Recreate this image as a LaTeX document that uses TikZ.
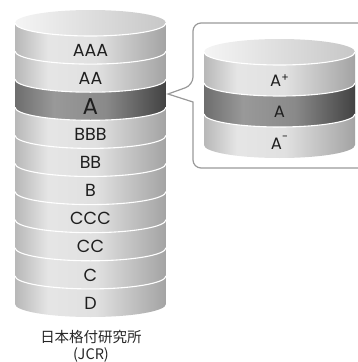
\documentclass[tikz,border=0pt]{standalone}
\usepackage{fontspec}
\setmainfont{Poppins}
\newfontfamily\jpfont{Noto Sans CJK JP}
\usepackage{xcolor}
\usepackage{tikz}
\usetikzlibrary{calc}

\pgfdeclarehorizontalshading{sidegray}{100bp}{color(0bp)=(black!28); color(25bp)=(black!28); color(36bp)=(black!10); color(52bp)=(black!12); color(75bp)=(black!36); color(100bp)=(black!36)}
\pgfdeclarehorizontalshading{bandgray}{100bp}{color(0bp)=(black!57); color(25bp)=(black!57); color(38bp)=(black!40); color(55bp)=(black!46); color(75bp)=(black!74); color(100bp)=(black!74)}
\pgfdeclarehorizontalshading{topgray}{100bp}{color(0bp)=(black!4); color(25bp)=(black!4); color(75bp)=(black!22); color(100bp)=(black!22)}

\begin{document}
\begin{tikzpicture}[x=1pt,y=1pt,
  lab/.style={font=\fontsize{17.5}{18}\selectfont, text=black!88, inner sep=0pt},
  biglab/.style={font=\fontsize{23}{24}\selectfont, text=black!88, inner sep=0pt},
  sublab/.style={font=\fontsize{16.5}{17}\selectfont, text=black!88, inner sep=0pt},
  sep/.style={white, line width=1.1pt},
  callout/.style={black!40, line width=1.2pt}]
\useasboundingbox (0,0) rectangle (358,-362);

% main scale
\foreach \k in {0,...,9}{
  \path[shading=sidegray] (15,{-23-28.1*\k}) arc[start angle=180,end angle=360,x radius=75.5,y radius=13]
    -- (166,{-51.1-28.1*\k}) arc[start angle=0,end angle=-180,x radius=75.5,y radius=13] -- cycle;
}
\path[shading=bandgray] (15,-79.2) arc[start angle=180,end angle=360,x radius=75.5,y radius=13]
  -- (166,-107.3) arc[start angle=0,end angle=-180,x radius=75.5,y radius=13] -- cycle;
\path[shading=topgray] (90.5,-23) ellipse[x radius=75.5,y radius=13];
\foreach \k in {0,...,9}{
  \draw[sep] (15,{-23-28.1*\k}) arc[start angle=180,end angle=360,x radius=75.5,y radius=13];
}

\node[lab] (aaa) at (90.5,-50.1) {AAA};
\node[lab] (aa) at (90.5,-78.2) {AA};
\node[biglab] (a) at (90.5,-106.3) {A};
\node[lab] (bbb) at (90.5,-134.4) {BBB};
\node[lab] (bb) at (90.5,-162.5) {BB};
\node[lab] (b) at (90.5,-190.6) {B};
\node[lab] (ccc) at (90.5,-218.7) {CCC};
\node[lab] (cc) at (90.5,-246.8) {CC};
\node[lab] (c) at (90.5,-274.9) {C};
\node[lab] (d) at (90.5,-303) {D};

\node[font=\jpfont\fontsize{14.5}{15}\selectfont, text=black!85] (jcr) at (91,-337) {日本格付研究所};
\node[font=\jpfont\fontsize{14.5}{15}\selectfont, text=black!85] (jcrabbr) at (91,-355) {(JCR)};

% callout
\draw[callout] (370,-23) [rounded corners=8pt] -- (193,-23) -- (193,-85) [sharp corners] -- (168,-94) -- (193,-102)
  [rounded corners=8pt] -- (193,-168) -- (370,-168);

% detail scale
\foreach \k in {0,1,2}{
  \path[shading=sidegray] (204,{-52-31*\k}) arc[start angle=180,end angle=360,x radius=75.5,y radius=13]
    -- (355,{-83-31*\k}) arc[start angle=0,end angle=-180,x radius=75.5,y radius=13] -- cycle;
}
\path[shading=bandgray] (204,-83) arc[start angle=180,end angle=360,x radius=75.5,y radius=13]
  -- (355,-114) arc[start angle=0,end angle=-180,x radius=75.5,y radius=13] -- cycle;
\path[shading=topgray] (279.5,-52) ellipse[x radius=75.5,y radius=13];
\foreach \k in {0,1,2}{
  \draw[sep] (204,{-52-31*\k}) arc[start angle=180,end angle=360,x radius=75.5,y radius=13];
}

\node[sublab] (aplus) at (279.5,-80.5) {A\raisebox{0.3em}{\fontsize{11}{11}\selectfont +}};
\node[sublab] (amid) at (279.5,-111.5) {A};
\node[sublab] (aminus) at (279.5,-142.5) {A\raisebox{0.55em}{\fontsize{11}{11}\selectfont -}};
\end{tikzpicture}
\end{document}
